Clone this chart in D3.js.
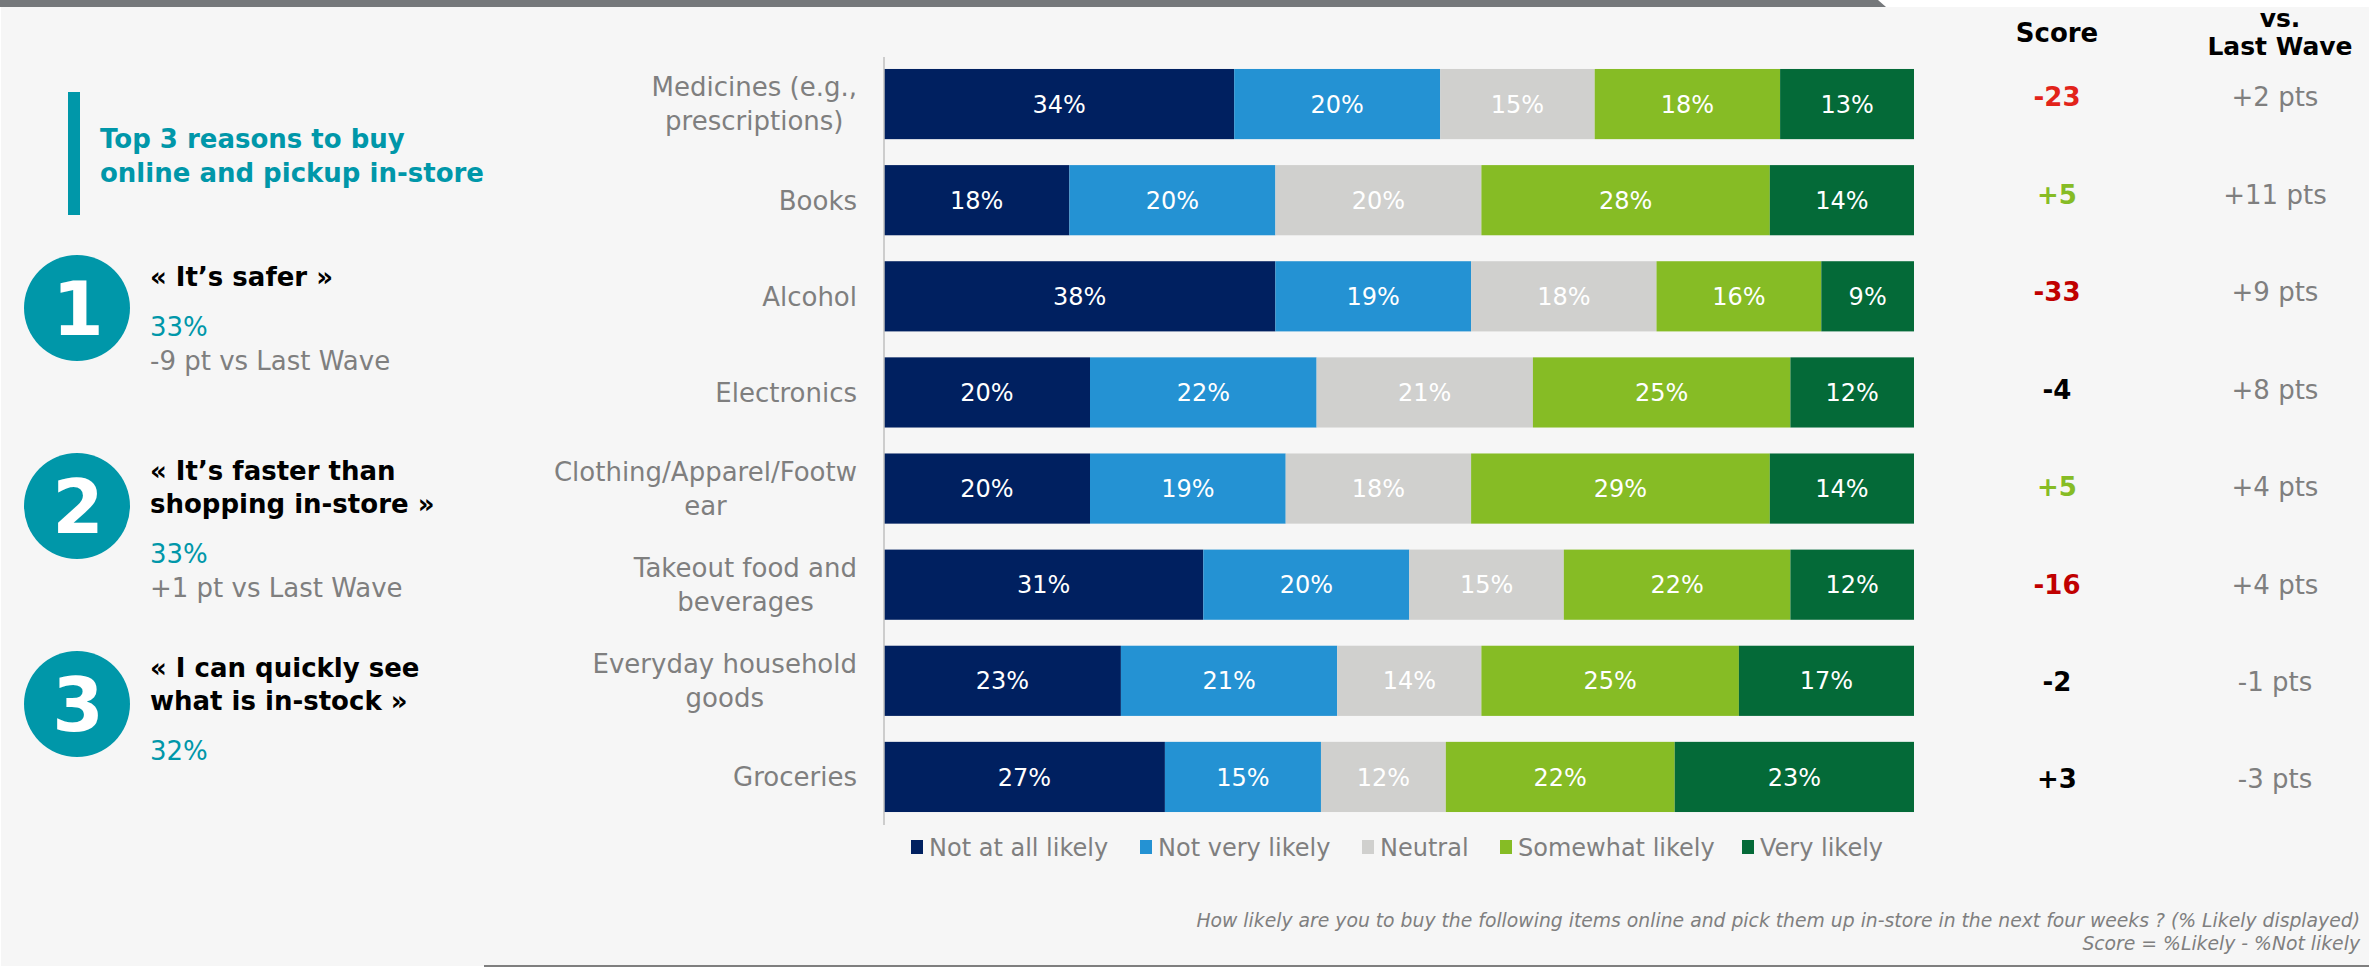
<!DOCTYPE html>
<html>
<head>
<meta charset="utf-8">
<script src="https://cdn.jsdelivr.net/npm/d3@7"></script>
<style>
  html, body { margin: 0; padding: 0; background: #ffffff; }
  svg { display: block; }
  text { font-family: Verdana, "DejaVu Sans", sans-serif; }
</style>
</head>
<body>
<svg id="chart" width="2369" height="967"></svg>
<script>
// Items asked about (each label line listed separately)
const categories = [
  ["Medicines (e.g.,", "prescriptions)"],
  ["Books"],
  ["Alcohol"],
  ["Electronics"],
  ["Clothing/Apparel/Footw", "ear"],
  ["Takeout food and", "beverages"],
  ["Everyday household", "goods"],
  ["Groceries"]
];
const seriesNames = ["Not at all likely", "Not very likely", "Neutral", "Somewhat likely", "Very likely"];
const notAtAll   = [34, 18, 38, 20, 20, 31, 23, 27];
const notVery    = [20, 20, 19, 22, 19, 20, 21, 15];
const neutral    = [15, 20, 18, 21, 18, 15, 14, 12];
const somewhat   = [18, 28, 16, 25, 29, 22, 25, 22];
const veryLikely = [13, 14,  9, 12, 14, 12, 17, 23];
const scores     = ["-23", "+5", "-33", "-4", "+5", "-16", "-2", "+3"];
const vsLastWave = ["+2 pts", "+11 pts", "+9 pts", "+8 pts", "+4 pts", "+4 pts", "-1 pts", "-3 pts"];

// Top reasons panel
const reasonRanks  = ["1", "2", "3"];
const reasonQuotes = [["« It’s safer »"], ["« It’s faster than", "shopping in-store »"], ["« I can quickly see", "what is in-stock »"]];
const reasonShares = ["33%", "33%", "32%"];
const reasonDeltas = ["-9 pt vs Last Wave", "+1 pt vs Last Wave", ""];

const colors = ["#002060", "#2492d3", "#d0d0ce", "#86bc25", "#046a38"];
const scoreColors = { "-23": "#e2231a", "-33": "#c00000", "-16": "#c00000", "+5": "#86bc25" };

const svg = d3.select("#chart");
const W = 2369, H = 967;

// page background and frame
svg.append("rect").attr("x", 0).attr("y", 0).attr("width", W).attr("height", H).attr("fill", "#ffffff");
svg.append("rect").attr("x", 1).attr("y", 7).attr("width", W - 1).attr("height", H - 8).attr("fill", "#f6f6f6");
svg.append("path").attr("d", "M0,0 L1878,0 L1886,7 L0,7 Z").attr("fill", "#75787b");
svg.append("line").attr("x1", 484).attr("x2", W).attr("y1", 966).attr("y2", 966)
  .attr("stroke", "#7f7f7f").attr("stroke-width", 2);

// ---- stacked bars ----
const rows = categories.map((c, i) => ({
  idx: i,
  "Not at all likely": notAtAll[i],
  "Not very likely": notVery[i],
  "Neutral": neutral[i],
  "Somewhat likely": somewhat[i],
  "Very likely": veryLikely[i]
}));

const stack = d3.stack().keys(seriesNames).offset(d3.stackOffsetExpand);
const layers = stack(rows);

const x = d3.scaleLinear().domain([0, 1]).range([884, 1914]);
const y = d3.scaleBand().domain(d3.range(categories.length)).range([56, 825]).paddingInner(0.27).paddingOuter(0.135);

const g = svg.append("g");
layers.forEach((layer, li) => {
  const lg = g.append("g");
  lg.selectAll("rect").data(layer).join("rect")
    .attr("x", d => x(d[0]))
    .attr("y", d => y(d.data.idx))
    .attr("width", d => x(d[1]) - x(d[0]))
    .attr("height", y.bandwidth())
    .attr("fill", colors[li]);
  lg.selectAll("text").data(layer).join("text")
    .attr("x", d => (x(d[0]) + x(d[1])) / 2)
    .attr("y", d => y(d.data.idx) + y.bandwidth() / 2)
    .attr("dy", "0.36em")
    .attr("text-anchor", "middle")
    .attr("fill", "#ffffff")
    .attr("font-size", 24)
    .text(d => d.data[layer.key] + "%");
});

// vertical axis line
svg.append("line").attr("x1", 884).attr("x2", 884).attr("y1", 57).attr("y2", 825)
  .attr("stroke", "#bfbfbf").attr("stroke-width", 1.5);

// category labels: lines centred on each other, block right-aligned
const labelRight = 857;
categories.forEach((lines, i) => {
  const cy = y(i) + y.bandwidth() / 2;
  const lh = 34;
  const t = svg.append("text").attr("fill", "#7f7f7f").attr("font-size", 26).attr("text-anchor", "middle");
  const spans = lines.map((ln, k) => t.append("tspan")
    .attr("y", cy + (k - (lines.length - 1) / 2) * lh)
    .attr("dy", "0.36em")
    .text(ln));
  const maxW = d3.max(spans, s => s.node().getComputedTextLength());
  spans.forEach(s => s.attr("x", labelRight - maxW / 2));
});

// score columns
const scoreX = 2057, waveX = 2275;
const rowY = d3.scalePoint().domain(d3.range(categories.length)).range([97, 779]);

svg.append("text").attr("x", scoreX).attr("y", 42).attr("text-anchor", "middle")
  .attr("font-size", 26).attr("font-weight", "bold").attr("fill", "#000").text("Score");
svg.append("text").attr("x", 2280).attr("y", 27).attr("text-anchor", "middle")
  .attr("font-size", 25).attr("font-weight", "bold").attr("fill", "#000").text("vs.");
svg.append("text").attr("x", 2280).attr("y", 55).attr("text-anchor", "middle")
  .attr("font-size", 25).attr("font-weight", "bold").attr("fill", "#000").text("Last Wave");

svg.append("g").selectAll("text").data(scores).join("text")
  .attr("x", scoreX)
  .attr("y", (d, i) => rowY(i))
  .attr("dy", "0.36em")
  .attr("text-anchor", "middle")
  .attr("font-size", 26).attr("font-weight", "bold")
  .attr("fill", d => scoreColors[d] || "#000000")
  .text(d => d);

svg.append("g").selectAll("text").data(vsLastWave).join("text")
  .attr("x", waveX)
  .attr("y", (d, i) => rowY(i))
  .attr("dy", "0.36em")
  .attr("text-anchor", "middle")
  .attr("font-size", 26)
  .attr("fill", "#7f7f7f")
  .text(d => d);

// legend
const legendX = [911, 1140, 1362, 1500, 1742];
const leg = svg.append("g");
seriesNames.forEach((name, i) => {
  leg.append("rect").attr("x", legendX[i]).attr("y", 840).attr("width", 12).attr("height", 14).attr("fill", colors[i]);
  leg.append("text").attr("x", legendX[i] + 18).attr("y", 847).attr("dy", "0.36em")
    .attr("font-size", 24).attr("fill", "#7f7f7f").text(name);
});

// footnote
svg.append("text").attr("x", 2360).attr("y", 927).attr("text-anchor", "end")
  .attr("font-size", 18.8).attr("font-style", "italic").attr("fill", "#7f7f7f")
  .text("How likely are you to buy the following items online and pick them up in-store in the next four weeks ? (% Likely displayed)");
svg.append("text").attr("x", 2360).attr("y", 950).attr("text-anchor", "end")
  .attr("font-size", 18.8).attr("font-style", "italic").attr("fill", "#7f7f7f")
  .text("Score = %Likely - %Not likely");

// ---- top reasons panel ----
const teal = "#0097a9";
svg.append("rect").attr("x", 68).attr("y", 92).attr("width", 12).attr("height", 123).attr("fill", teal);
svg.append("text").attr("x", 100).attr("y", 148).attr("font-size", 26).attr("font-weight", "bold").attr("fill", teal)
  .text("Top 3 reasons to buy");
svg.append("text").attr("x", 100).attr("y", 182).attr("font-size", 26).attr("font-weight", "bold").attr("fill", teal)
  .text("online and pickup in-store");

const circleY = [308, 506, 704];
const quoteY = [286, 480, 677];
reasonRanks.forEach((r, i) => {
  svg.append("circle").attr("cx", 77).attr("cy", circleY[i]).attr("r", 53).attr("fill", teal);
  svg.append("text").attr("x", 78).attr("y", circleY[i] + 27).attr("text-anchor", "middle")
    .attr("font-size", 74).attr("font-weight", "bold").attr("fill", "#ffffff").text(r);
  const q = reasonQuotes[i];
  q.forEach((ln, k) => {
    svg.append("text").attr("x", 150).attr("y", quoteY[i] + k * 33)
      .attr("font-size", 26).attr("font-weight", "bold").attr("fill", "#000000").text(ln);
  });
  const base = quoteY[i] + (q.length - 1) * 33;
  svg.append("text").attr("x", 150).attr("y", base + 50)
    .attr("font-size", 26).attr("fill", teal).text(reasonShares[i]);
  if (reasonDeltas[i]) {
    svg.append("text").attr("x", 150).attr("y", base + 84)
      .attr("font-size", 26).attr("fill", "#7f7f7f").text(reasonDeltas[i]);
  }
});
</script>
</body>
</html>
